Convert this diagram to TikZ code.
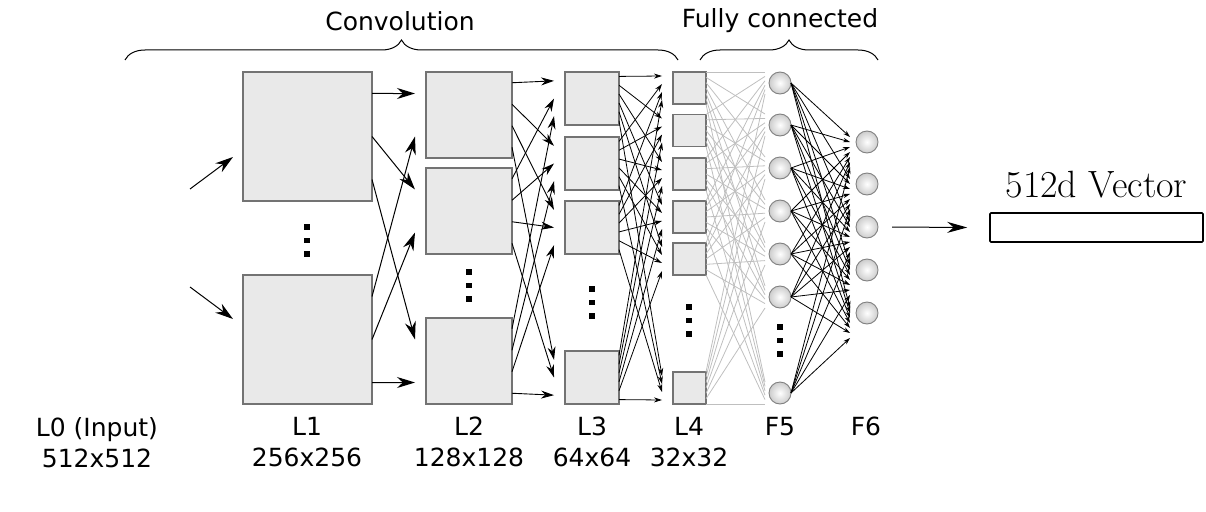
\documentclass[tikz,border=0pt]{standalone}
\usepackage{fontspec}
\setsansfont{DejaVu Sans}
\usetikzlibrary{positioning,arrows.meta,calc,decorations.pathreplacing}
\newcommand{\vdotsq}[2]{\foreach \d in {0,13.5,27} \fill (#1-2.8,#2+\d-2.8) rectangle ++(5.6,5.6);}

\begin{document}
\begin{tikzpicture}[
    x=1pt, y=-1pt,
    fmap/.style={draw=black!55, fill=gray!17, line width=1.1pt, inner sep=0pt, outer sep=0pt},
    sz/.style 2 args={minimum width=#1pt, minimum height=#2pt},
    neuron/.style={circle, draw=black!50, line width=0.9pt, inner color=white, outer color=gray!40,
                   minimum size=22pt, inner sep=0pt, outer sep=0pt},
    lbl/.style={font=\sffamily\fontsize{25}{31}\selectfont, align=center, inner sep=0pt, anchor=north},
    ttl/.style={font=\sffamily\fontsize{25}{31}\selectfont, inner sep=0pt},
    bigar/.style={-{Stealth[length=18pt, width=11pt]}, line width=1pt},
    midar/.style={-{Stealth[length=13pt, width=8pt]}, line width=0.9pt},
    smallar/.style={-{Stealth[length=8pt, width=5pt]}, line width=0.8pt},
    tinyar/.style={-{Stealth[length=7pt, width=4.5pt]}, line width=0.8pt},
    fcline/.style={draw=gray!50, line width=0.8pt},
    brc/.style={decorate, decoration={brace, amplitude=20pt}, line width=1pt},
]
\useasboundingbox (0,0) rectangle (1206,511);

% Titles and braces.
\node[ttl] (convt) at (400,21) {Convolution};
\node[ttl] (fct)   at (780,21) {Fully connected};
\draw[brc] (125,60) -- (678,60);
\draw[brc] (700,60) -- (878,60);

% Feature maps.
\foreach \y [count=\i] in {136.5,339.5} \node[fmap, sz={129}{129}] (l1-\i) at (307.5,\y) {};
\foreach \y [count=\i] in {115,211,361} \node[fmap, sz={86}{86}] (l2-\i) at (469,\y) {};
\foreach \y [count=\i] in {98.5,163.5,227.5,377.5} \node[fmap, sz={54}{53}] (l3-\i) at (592,\y) {};
\foreach \y [count=\i] in {88,130.5,174,217,259,388} \node[fmap, sz={33}{32}] (l4-\i) at (689.5,\y) {};

% Neurons.
\foreach \y [count=\i] in {83,125,168,211,254,297,393} \node[neuron] (f5-\i) at (780,\y) {};
\foreach \y [count=\i] in {142,184,227,270,313} \node[neuron] (f6-\i) at (867,\y) {};

% Elided units.
\vdotsq{307}{227}
\vdotsq{469}{272}
\vdotsq{592}{289}
\vdotsq{689}{307}
\vdotsq{780}{327}

% Input (L0 -> L1).
\coordinate (in-1) at (190,189);
\coordinate (in-2) at (190,287);
\draw[bigar] (in-1) -- ($(l1-1.west)+(-10,20.5)$);
\draw[bigar] (in-2) -- ($(l1-2.west)+(-10,-20.5)$);

% L1 -> L2.
\foreach \i in {1,2} \foreach \j in {1,2,3} {
  \pgfmathsetmacro\fa{(\j-0.5)/3}
  \pgfmathsetmacro\fb{(\i-0.5)/2}
  \draw[bigar] ($(l1-\i.north east)!\fa!(l1-\i.south east)$) -- ($(l2-\j.north west)!\fb!(l2-\j.south west)+(-11,0)$);
}
% L2 -> L3.
\foreach \i in {1,2,3} \foreach \j in {1,...,4} {
  \pgfmathsetmacro\fa{(\j-0.5)/4}
  \pgfmathsetmacro\fb{(\i-0.5)/3}
  \draw[midar] ($(l2-\i.north east)!\fa!(l2-\i.south east)$) -- ($(l3-\j.north west)!\fb!(l3-\j.south west)+(-11,0)$);
}
% L3 -> L4.
\foreach \i in {1,...,4} \foreach \j in {1,...,6} {
  \pgfmathsetmacro\fa{(\j-0.5)/6}
  \pgfmathsetmacro\fb{(\i-0.5)/4}
  \draw[smallar] ($(l3-\i.north east)!\fa!(l3-\i.south east)$) -- ($(l4-\j.north west)!\fb!(l4-\j.south west)+(-11,0)$);
}
% L4 -> F5 (fully connected, grey).
\foreach \i in {1,...,6} \foreach \j in {1,...,7} {
  \pgfmathsetmacro\fa{(\j-1)/6}
  \pgfmathsetmacro\dy{-11+22*(\i-1)/5}
  \draw[fcline] ($(l4-\i.north east)!\fa!(l4-\i.south east)$) -- ($(f5-\j.center)+(-15,\dy)$);
}
% F5 -> F6.
\foreach \i in {1,...,7} \foreach \k in {1,...,5} {
  \pgfmathsetmacro\dy{-5+5*(\i-1)}
  \draw[tinyar] (f5-\i.east) -- ($(f6-\k.center)+(-17,\dy)$);
}

% Output vector.
\node[draw, line width=1.6pt, rounded corners=1pt, sz={213}{29}, inner sep=0pt] (vec) at (1096.5,227.5) {};
\node[font=\fontsize{38}{40}\selectfont, inner sep=0pt, anchor=base] (vect) at (1096.5,197) {512d Vector};
\draw[-{Stealth[length=20pt, width=11pt]}, line width=1pt] ($(f6-3.east)+(14,0)$) -- ($(vec.west)+(-22,0)$);

% Layer labels.
\node[lbl] (lab0) at (97,417)  {L0 (Input)\\512x512};
\node[lbl] (lab1) at (307,417) {L1\\256x256};
\node[lbl] (lab2) at (469,417) {L2\\128x128};
\node[lbl] (lab3) at (592,417) {L3\\64x64};
\node[lbl] (lab4) at (689,417) {L4\\32x32};
\node[lbl] (lab5) at (780,417) {F5};
\node[lbl] (lab6) at (866,417) {F6};
\end{tikzpicture}
\end{document}
